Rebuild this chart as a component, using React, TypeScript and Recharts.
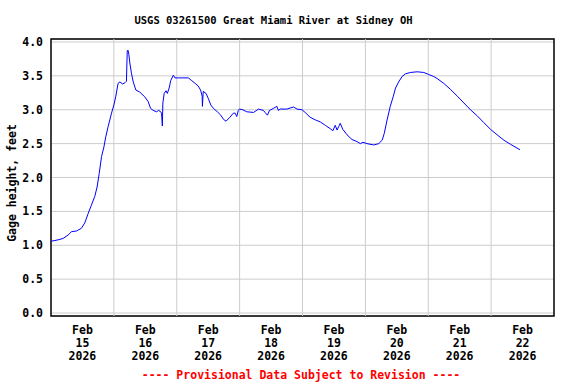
import React from 'react';
import { LineChart, Line, XAxis, YAxis, CartesianGrid, ReferenceLine, ReferenceArea } from 'recharts';

// hours since Feb 15 2026 00:00
const hours = [
    0, 1.5, 2.7, 4.6, 6.5, 7.8, 9.7, 11.6, 12.9, 14.2, 15.4, 16.7, 17.6, 18.4, 19.3, 20.2, 20.9, 21.8, 23.1,
    24.0, 24.7, 25.6, 26.3, 27.3, 28.3, 28.8, 29.1, 29.4, 29.7, 30.1, 30.7, 31.4, 32.4, 33.9, 35.8, 37.1, 38.0,
    39.0, 40.3, 41.0, 41.6, 42.2, 42.5, 42.7, 43.2, 43.9, 44.4, 45.1, 45.7, 46.7, 47.3, 48.6, 52.4, 53.7, 55.0,
    56.2, 57.1, 57.7, 57.8, 58.1, 59.2, 60.0, 61.0, 62.0, 63.5, 64.8, 65.8, 66.8, 68.3, 69.6, 70.3, 70.9, 71.5,
    71.9, 73.2, 74.7, 77.3, 79.2, 81.1, 81.7, 82.6, 83.4, 84.9, 86.2, 86.8, 87.5, 90.0, 92.6, 93.9, 95.8, 97.0,
    98.9, 100.9, 102.8, 104.7, 106.6, 107.6, 108.5, 109.2, 109.8, 110.4, 111.4, 113.0, 114.9, 116.8, 118.1,
    119.1, 120.6, 123.2, 125.1, 126.4, 127.2, 128.3, 129.5, 130.6, 131.5, 132.7, 134.0, 135.3, 137.2, 139.8,
    142.3, 144.2, 146.1, 147.4, 149.9, 152.5, 155.1, 157.6, 160.1, 162.7, 165.2, 167.8, 170.3, 172.9, 175.4, 179.0,
];

const gageHeight = [
    1.06, 1.07, 1.08, 1.10, 1.15, 1.20, 1.21, 1.25, 1.33, 1.47, 1.59, 1.72, 1.86, 2.06, 2.31, 2.45, 2.60, 2.75, 2.95,
    3.07, 3.19, 3.39, 3.41, 3.38, 3.40, 3.42, 3.87, 3.88, 3.82, 3.69, 3.54, 3.41, 3.29, 3.26, 3.19, 3.12, 3.02,
    2.99, 2.97, 2.99, 2.98, 2.95, 2.76, 3.10, 3.24, 3.28, 3.24, 3.32, 3.43, 3.51, 3.47, 3.47, 3.47, 3.43, 3.39,
    3.35, 3.29, 3.20, 3.05, 3.27, 3.24, 3.17, 3.07, 3.02, 2.97, 2.92, 2.86, 2.83, 2.89, 2.95, 2.95, 2.90, 2.99,
    3.01, 3.00, 2.97, 2.96, 3.01, 2.99, 2.96, 2.92, 2.99, 3.02, 3.05, 2.99, 3.01, 3.01, 3.04, 3.01, 3.00, 2.96,
    2.89, 2.85, 2.82, 2.77, 2.72, 2.69, 2.77, 2.70, 2.75, 2.80, 2.71, 2.63, 2.56, 2.53, 2.50,
    2.52, 2.50, 2.48, 2.50, 2.55, 2.65, 2.85, 3.05, 3.19, 3.32, 3.41, 3.49, 3.53, 3.55, 3.56,
    3.55, 3.52, 3.49, 3.46, 3.39, 3.30, 3.20, 3.10, 3.00, 2.91, 2.81, 2.71, 2.63, 2.55, 2.49, 2.41,
];

const dayLabels = ['15', '16', '17', '18', '19', '20', '21', '22'];
const dayTicks = [12, 36, 60, 84, 108, 132, 156, 180];
const dayBounds = [24, 48, 72, 96, 120, 144, 168];
const yTicks = [0, 0.5, 1, 1.5, 2, 2.5, 3, 3.5, 4];

const data = hours.map((h, i) => ({ h, v: gageHeight[i] }));

const font = '"DejaVu Sans Mono", monospace';

const DayTick = (props: any) => {
    const { x, y, payload } = props;
    const i = dayTicks.indexOf(payload.value);
    return (
        <g>
            <text x={x} y={y + 10} textAnchor="middle" fontFamily={font} fontWeight="bold" fontSize={11.5} fill="#000">Feb</text>
            <text x={x} y={y + 23} textAnchor="middle" fontFamily={font} fontWeight="bold" fontSize={11.5} fill="#000">{dayLabels[i]}</text>
            <text x={x} y={y + 36} textAnchor="middle" fontFamily={font} fontWeight="bold" fontSize={11.5} fill="#000">2026</text>
        </g>
    );
};

export default function App() {
    return (
        <div style={{ position: 'absolute', left: 0, top: 0, width: 576, height: 384, background: '#fff' }}>
            <LineChart width={576} height={384} data={data} margin={{ top: 39, right: 22, bottom: 0, left: 0 }}>
                <CartesianGrid vertical={false} stroke="#cccccc" />
                {dayBounds.map(b => (
                    <ReferenceLine key={b} x={b} stroke="#cccccc" />
                ))}
                <XAxis
                    dataKey="h" type="number" domain={[0, 192]} ticks={dayTicks} allowDataOverflow
                    axisLine={false} tickLine={false} height={68} tick={<DayTick />} interval={0}
                />
                <YAxis
                    type="number" domain={[-0.044, 4.044]} ticks={yTicks} allowDataOverflow width={51}
                    axisLine={false} tickLine={false} tickSize={6} tickMargin={2} interval={0}
                    tickFormatter={(v: number) => v.toFixed(1)}
                    tick={{ fontFamily: font, fontWeight: 'bold', fontSize: 11.5, fill: '#000' }}
                />
                <Line type="linear" dataKey="v" stroke="#0000ff" strokeWidth={1} dot={false} isAnimationActive={false} />
                <ReferenceArea x1={0} x2={192} y1={-0.044} y2={4.044} fill="none" stroke="#000" strokeWidth={1.5} />
            </LineChart>
            <svg width={576} height={384} style={{ position: 'absolute', left: 0, top: 0, pointerEvents: 'none' }}>
                <text x={273.5} y={24} textAnchor="middle" fontFamily={font} fontWeight="bold" fontSize={10.5} fill="#000">
                    USGS 03261500 Great Miami River at Sidney OH
                </text>
                <text x={16} y={183} transform="rotate(-90 16 183)" textAnchor="middle" fontFamily={font} fontWeight="bold" fontSize={11.5} fill="#000">
                    Gage height, feet
                </text>
                <text x={301} y={379} textAnchor="middle" fontFamily={font} fontWeight="bold" fontSize={11.5} fill="#ff0000">
                    ---- Provisional Data Subject to Revision ----
                </text>
            </svg>
        </div>
    );
}
